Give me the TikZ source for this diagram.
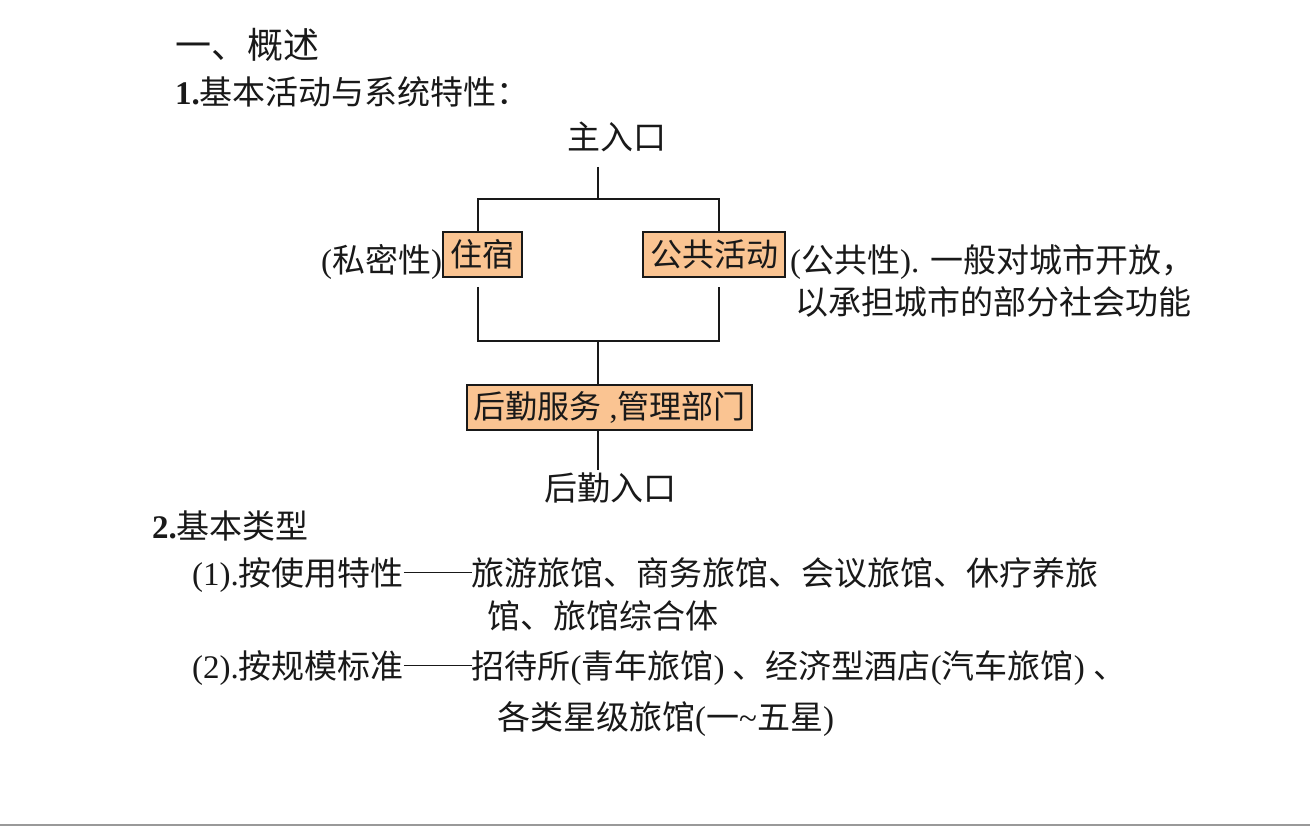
\documentclass[tikz,border=0pt]{standalone}
\usepackage{fontspec}
\setmainfont{Noto Sans CJK SC}
\newfontfamily\latf{Liberation Serif}
\newcommand\lt[1]{{\latf #1}}
\newcommand\longdash{\rule[0.36em]{2.05em}{1.3pt}}
\definecolor{peach}{RGB}{250,196,146}
\definecolor{ink}{RGB}{25,25,25}
\tikzset{
  every node/.style={inner sep=0pt, text=ink, font=\fontsize{33pt}{38pt}\selectfont},
  txt/.style={anchor=base west},
  ctxt/.style={anchor=base},
  boxst/.style={draw=ink, line width=1.5pt, fill=peach, minimum height=45pt, anchor=center, font=\fontsize{32pt}{38pt}\selectfont},
  stem/.style={draw=ink, line width=2pt},
  branch/.style={draw=ink, line width=1.3pt},
}
\begin{document}
\begin{tikzpicture}[x=1pt,y=-1pt]
\fill[white] (0,0) rectangle (1310,826);
\useasboundingbox (0,0) rectangle (1310,826);
% headings
\node[txt] (h1) at (175,59) {\fontsize{36pt}{40pt}\selectfont 一、概述};
\node[txt] (h2) at (175,105) {\lt{\textbf{1.}}基本活动与系统特性：};
% diagram
\node[ctxt] (main) at (616.5,150) {主入口};
\node[boxst, minimum width=79pt] (zs) at (482.5,254.5) {住宿};
\node[boxst, minimum width=142pt] (gg) at (714,254.5) {公共活动};
\node[boxst, minimum width=285pt] (hq) at (609.5,407.5) {后勤服务\lt{ ,}管理部门};
\node[ctxt] (hqin) at (610,500) {后勤入口};
\node[anchor=base east] (priv) at (zs.west |- 0,273) {\lt{(}私密性\lt{)}};
\node[txt] (pub1) at (790,273) {\lt{(}公共性\lt{). }一般对城市开放，};
\node[txt] (pub2) at (795,315) {以承担城市的部分社会功能};
\coordinate (stemtop) at (598,167);
\coordinate (j1) at (598,199);
\coordinate (j1l) at (478,199);
\coordinate (j1r) at (719,199);
\coordinate (b1) at (478,287);
\coordinate (b2) at (719,287);
\coordinate (j2) at (598,341);
\coordinate (j2l) at (478,341);
\coordinate (j2r) at (719,341);
\coordinate (hqend) at (598,470);
\draw[stem] (stemtop) -- (j1);
\draw[branch] (j1l |- zs.north) -- (j1l) -- (j1r) -- (j1r |- gg.north);
\draw[branch] (b1) -- (j2l) -- (j2r) -- (b2);
\draw[stem] (j2) -- (j2 |- hq.north);
\draw[stem] (j2 |- hq.south) -- (hqend);
% types
\node[txt] (h3) at (152,538) {\lt{\textbf{2.}}基本类型};
\node[txt] (l1) at (192,585) {\lt{(1).}按使用特性\longdash 旅游旅馆、商务旅馆、会议旅馆、休疗养旅};
\node[txt] (l2) at (487,628) {馆、旅馆综合体};
\node[txt] (l3) at (192,678) {\lt{(2).}按规模标准\longdash 招待所\lt{(}青年旅馆\lt{) }、经济型酒店\lt{(}汽车旅馆\lt{) }、};
\node[txt] (l4) at (497,729) {各类星级旅馆\lt{(}一\lt{\textasciitilde}五星\lt{)}};
% bottom rule
\draw[draw=black!40, line width=2pt] (0,825) -- (1310,825);
\end{tikzpicture}
\end{document}
